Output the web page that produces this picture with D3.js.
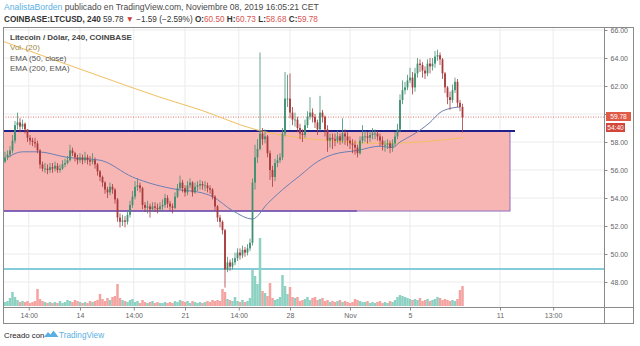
<!DOCTYPE html>
<html>
<head>
<meta charset="utf-8">
<script src="https://cdn.jsdelivr.net/npm/d3@7"></script>
<style>
  body { margin: 0; background: #fff; }
  text { font-family: "Liberation Sans", Arial, sans-serif; }
</style>
</head>
<body>
<div id="chart"></div>
<script>
const W = 640, H = 346

// 4h candles, first one on Oct 9 2019 00:00
const firstCandle = new Date(2019, 9, 9, 0)

const closes = [
  56.9, 57.1, 57.4, 58.1, 59.2, 59.4, 59.1, 59.3, 58.9, 58.3, 58.1, 58.0,
  57.9, 57.4, 56.4, 56.1, 56.1, 56.0, 56.2, 56.1, 56.3, 56.0, 56.1, 56.4,
  56.5, 56.7, 57.4, 57.2, 56.9, 56.7, 56.9, 56.7, 56.9, 56.7, 56.6, 56.7,
  56.4, 55.9, 55.5, 55.1, 54.6, 54.4, 54.8, 54.6, 53.9, 52.6, 52.3, 52.4,
  52.3, 52.8, 53.5, 54.1, 54.8, 54.9, 54.7, 53.5, 53.3, 53.4, 53.2, 53.4,
  53.3, 53.2, 53.4, 53.5, 54.0, 53.6, 53.4, 53.3, 54.1, 54.7, 55.1, 54.7,
  54.4, 54.9, 55.1, 54.4, 54.8, 54.9, 55.0, 54.9, 54.9, 54.7, 54.6, 54.1,
  53.4, 52.6, 52.3, 51.7, 48.9, 49.4, 49.1, 49.4, 49.7, 50.1, 49.9, 50.3,
  50.1, 50.4, 50.8, 55.1, 56.9, 57.5, 58.6, 58.2, 58.4, 57.2, 56.0, 55.5,
  56.5, 56.7, 56.9, 58.6, 61.1, 61.1, 60.1, 59.6, 59.6, 59.0, 58.6, 58.5,
  59.2, 59.8, 60.1, 59.8, 59.4, 58.9, 60.1, 59.8, 58.9, 58.1, 58.3, 58.2,
  58.1, 58.4, 58.1, 58.6, 58.4, 58.1, 57.9, 57.8, 57.6, 57.2, 58.1, 58.4,
  58.4, 58.3, 58.5, 58.6, 58.6, 58.4, 58.1, 57.8, 57.8, 57.9, 57.6, 57.9,
  58.4, 58.9, 61.0, 61.7, 61.9, 62.4, 62.6, 61.9, 62.9, 63.6, 63.5, 63.1,
  62.9, 63.6, 63.4, 63.6, 64.1, 64.2, 63.9, 62.9, 61.9, 61.2, 61.0, 61.7,
  62.3, 60.8, 60.5, 59.78
]
const highs = [
  57.3, 57.4, 57.7, 58.5, 59.5, 60.1, 59.7, 59.6, 59.4, 58.9, 58.5, 58.3,
  58.3, 58.1, 57.5, 56.6, 56.5, 56.4, 56.5, 56.5, 56.6, 56.5, 56.4, 56.7,
  56.8, 57.0, 57.8, 57.6, 57.3, 57.1, 57.2, 57.1, 57.3, 57.1, 57.0, 57.2,
  56.9, 56.5, 56.0, 55.6, 55.2, 54.8, 55.1, 55.0, 54.7, 54.0, 52.9, 52.8,
  52.7, 53.0, 53.8, 54.5, 55.2, 55.4, 55.1, 54.8, 53.7, 53.8, 53.6, 53.7,
  53.7, 53.6, 53.7, 53.9, 54.3, 54.2, 53.8, 53.6, 54.4, 55.0, 55.6, 55.3,
  54.9, 55.2, 55.4, 55.2, 55.1, 55.2, 55.3, 55.2, 55.2, 55.1, 54.9, 54.7,
  54.2, 53.5, 52.8, 52.4, 51.8, 49.8, 49.6, 49.7, 50.1, 50.4, 50.4, 50.6,
  50.5, 50.7, 51.1, 55.4, 57.8, 58.2, 64.4, 59.0, 58.9, 58.5, 57.4, 56.3,
  56.8, 57.1, 57.2, 59.0, 63.0, 62.8, 62.9, 60.5, 60.1, 59.8, 59.3, 58.9,
  59.6, 60.2, 61.2, 60.4, 60.0, 59.6, 61.3, 60.3, 59.9, 59.2, 58.6, 58.6,
  58.6, 58.8, 58.6, 59.7, 58.9, 58.7, 58.4, 58.2, 58.1, 57.8, 58.4, 59.2,
  58.8, 58.7, 58.8, 59.0, 58.9, 58.8, 58.6, 58.4, 58.1, 58.2, 58.1, 58.2,
  58.7, 59.3, 61.4, 62.4, 62.3, 62.8, 63.3, 63.0, 63.3, 64.0, 63.9, 63.7,
  63.4, 63.9, 64.0, 64.0, 64.5, 64.6, 64.4, 64.0, 63.0, 62.0, 61.6, 62.1,
  62.6, 62.5, 61.0, 60.73
]
const lows = [
  56.5, 56.7, 56.9, 57.2, 57.9, 58.9, 58.7, 58.9, 58.6, 58.0, 57.8, 57.7,
  57.6, 57.2, 56.1, 55.9, 55.8, 55.7, 55.8, 55.8, 55.9, 55.8, 55.8, 56.0,
  56.2, 56.4, 56.6, 57.0, 56.6, 56.4, 56.5, 56.4, 56.5, 56.4, 56.3, 56.4,
  56.1, 55.6, 55.2, 54.8, 54.3, 54.0, 54.2, 54.3, 53.6, 52.3, 51.9, 52.0,
  51.9, 52.1, 52.6, 53.3, 53.9, 54.5, 54.4, 53.2, 53.0, 52.9, 52.6, 53.0,
  53.0, 52.9, 53.0, 53.1, 53.3, 53.3, 53.1, 52.9, 53.2, 54.0, 54.6, 54.4,
  54.1, 54.2, 54.7, 54.1, 54.3, 54.5, 54.6, 54.6, 54.5, 54.4, 54.3, 53.9,
  53.1, 52.3, 51.9, 51.4, 47.6, 48.7, 48.8, 48.9, 49.2, 49.5, 49.6, 49.7,
  49.8, 49.9, 50.2, 50.6, 54.6, 56.5, 57.4, 57.8, 57.9, 56.9, 55.3, 54.8,
  55.2, 56.2, 56.5, 56.7, 58.4, 60.5, 59.7, 59.2, 59.1, 58.7, 58.2, 58.0,
  58.3, 59.0, 59.6, 59.4, 59.0, 58.5, 58.8, 59.4, 58.4, 57.3, 57.6, 57.5,
  57.7, 57.9, 57.8, 57.9, 57.8, 57.7, 57.5, 57.2, 57.1, 56.9, 57.1, 57.9,
  58.0, 57.9, 58.0, 58.2, 58.2, 58.1, 57.7, 57.4, 57.3, 57.5, 57.2, 57.3,
  57.7, 58.2, 58.7, 60.7, 61.4, 61.7, 62.2, 61.4, 61.6, 62.6, 63.0, 62.6,
  62.5, 62.7, 62.9, 63.1, 63.3, 63.8, 63.5, 62.5, 61.5, 60.7, 60.3, 60.8,
  61.5, 60.5, 60.2, 58.68
]
const volumes = [
  4, 5, 8, 14, 9, 6, 4, 5, 4, 5, 3, 4,
  5, 17, 7, 5, 4, 3, 4, 3, 4, 3, 5, 3,
  4, 6, 5, 4, 6, 5, 4, 3, 4, 3, 5, 4,
  5, 6, 12, 7, 5, 8, 6, 9, 10, 22, 8, 6,
  5, 4, 6, 7, 4, 5, 3, 6, 4, 3, 4, 5,
  3, 4, 3, 3, 4, 3, 4, 3, 5, 4, 6, 5,
  4, 5, 3, 5, 4, 3, 4, 3, 4, 5, 4, 6,
  5, 6, 5, 17, 14, 7, 6, 5, 9, 5, 4, 6,
  4, 5, 8, 36, 30, 22, 68, 15, 13, 10, 23, 8,
  6, 7, 9, 31, 20, 12, 19, 9, 8, 9, 5, 6,
  7, 9, 6, 8, 9, 6, 7, 8, 5, 6, 4, 5,
  4, 5, 6, 4, 5, 4, 3, 4, 7, 6, 5, 4,
  4, 5, 3, 4, 3, 4, 5, 3, 4, 3, 5, 4,
  6, 9, 11, 10, 9, 8, 7, 6, 7, 6, 8, 5,
  6, 7, 5, 6, 7, 9, 8, 6, 7, 6, 5, 6,
  5, 7, 16, 20
]
const firstOpen = 56.6

// EMA (50, close): candle index, value
const ema50Idx = [1, 7, 13, 25, 38, 51, 69, 78, 83, 91, 99, 105, 111, 118, 125, 131, 141, 150, 155, 158, 163, 170, 174, 178, 182]
const ema50Val = [56.9, 57.3, 57.3, 56.9, 56.7, 55.5, 54.6, 54.4, 54.1, 53.1, 52.5, 53.6, 54.6, 55.6, 56.6, 57.1, 57.4, 57.7, 57.6, 58.0, 58.5, 59.4, 60.1, 60.4, 60.5]
// EMA (200, EMA)
const ema200Idx = [-1, 16, 38, 62, 78, 100, 114, 130, 150, 166, 183]
const ema200Val = [65.2, 64.1, 62.7, 61.2, 60.3, 58.9, 58.4, 58.1, 57.9, 58.0, 58.3]

// drawings
const rectTop = 58.79, rectBottom = 53.07
const rectEnd = new Date(2019, 10, 11, 16)
const topLineEnd = new Date(2019, 10, 12, 0)
const bottomLineEnd = new Date(2019, 10, 1, 11)
const supportLevel = 48.93
const lastPrice = 59.78

const priceTicks = [48, 50, 52, 54, 56, 58, 60, 62, 64, 66]
// 60.00 sits under the last-price tag, so it has no visible label
const hiddenPriceLabels = [60]
const timeTicks = [
  new Date(2019, 9, 10, 14), new Date(2019, 9, 14), new Date(2019, 9, 17, 14),
  new Date(2019, 9, 21), new Date(2019, 9, 24, 14), new Date(2019, 9, 28),
  new Date(2019, 10, 1), new Date(2019, 10, 5), new Date(2019, 10, 11),
  new Date(2019, 10, 14, 13)
]
const timeLabels = ["14:00", "14", "14:00", "21", "14:00", "28", "Nov", "5", "11", "13:00"]

const upColor = "#3f8f70", downColor = "#a83a3c"
const upVol = "#8dd1c3", downVol = "#f4a3a0"

const plot = { left: 3, right: 604, top: 27, bottom: 307 }

const candleTime = i => new Date(firstCandle.getTime() + i * 4 * 3600 * 1000)
const candles = closes.map((c, i) => ({
  t: candleTime(i),
  o: i === 0 ? firstOpen : closes[i - 1],
  h: highs[i], l: lows[i], c: c, v: volumes[i]
}))

const x = d3.scaleTime()
  .domain([new Date(2019, 9, 14), new Date(2019, 10, 11)])
  .range([80, 500])
const y = d3.scaleLinear().domain([48, 66]).range([282, 30])
const yVol = d3.scaleLinear().domain([0, 68]).range([306, 238])

const svg = d3.select("#chart").append("svg")
  .attr("width", W).attr("height", H)

svg.append("clipPath").attr("id", "plotclip")
  .append("rect")
  .attr("x", plot.left).attr("y", plot.top)
  .attr("width", plot.right - plot.left).attr("height", plot.bottom - plot.top)

// header
const head1 = svg.append("text").attr("x", 4).attr("y", 10).attr("font-size", 8.6).attr("fill", "#4a4a4a")
head1.append("tspan").attr("fill", "#5aafe2").text("AnalistaBorden")
head1.append("tspan").text(" publicado en TradingView.com, Noviembre 08, 2019 16:05:21 CET")

const head2 = svg.append("text").attr("x", 4).attr("y", 21.5).attr("font-size", 8.2).attr("fill", "#333")
head2.append("tspan").attr("font-weight", "bold").text("COINBASE:LTCUSD, 240")
head2.append("tspan").text(" 59.78 ")
head2.append("tspan").attr("fill", "#d23a3a").text("▼")
head2.append("tspan").text(" −1.59 (−2.59%) ")
const ohlc = [["O:", "60.50"], ["H:", "60.73"], ["L:", "58.68"], ["C:", "59.78"]]
ohlc.forEach(([k, v], i) => {
  head2.append("tspan").attr("font-weight", "bold").text((i ? " " : "") + k)
  head2.append("tspan").attr("fill", "#d9534f").text(v)
})

const g = svg.append("g")
const plotG = g.append("g").attr("clip-path", "url(#plotclip)")

// grid
plotG.append("g").selectAll("line").data(priceTicks).join("line")
  .attr("x1", plot.left).attr("x2", plot.right)
  .attr("y1", d => y(d)).attr("y2", d => y(d))
  .attr("stroke", "#ebebeb").attr("stroke-width", 1)
plotG.append("g").selectAll("line").data(timeTicks).join("line")
  .attr("x1", d => x(d)).attr("x2", d => x(d))
  .attr("y1", plot.top).attr("y2", plot.bottom)
  .attr("stroke", "#ebebeb").attr("stroke-width", 1)

// range box
plotG.append("rect")
  .attr("x", plot.left - 5).attr("y", y(rectTop))
  .attr("width", x(rectEnd) - plot.left + 5).attr("height", y(rectBottom) - y(rectTop))
  .attr("fill", "#f7b6b4").attr("stroke", "#8c6fc0").attr("stroke-width", 1)

// support line
plotG.append("line")
  .attr("x1", plot.left).attr("x2", plot.right)
  .attr("y1", y(supportLevel)).attr("y2", y(supportLevel))
  .attr("stroke", "#86cbd9").attr("stroke-width", 2)

// top and bottom lines of the box
plotG.append("line")
  .attr("x1", plot.left).attr("x2", x(topLineEnd))
  .attr("y1", y(rectTop)).attr("y2", y(rectTop))
  .attr("stroke", "#20208a").attr("stroke-width", 2)
plotG.append("line")
  .attr("x1", plot.left).attr("x2", x(bottomLineEnd))
  .attr("y1", y(rectBottom)).attr("y2", y(rectBottom))
  .attr("stroke", "#6f4fb0").attr("stroke-width", 1.6)

// last price line
plotG.append("line")
  .attr("x1", plot.left).attr("x2", plot.right)
  .attr("y1", y(lastPrice)).attr("y2", y(lastPrice))
  .attr("stroke", "#d9534f").attr("stroke-width", 0.8).attr("stroke-dasharray", "1,1.5")

// volume
const step = x(candleTime(1)) - x(candleTime(0))
plotG.append("g").selectAll("rect").data(candles).join("rect")
  .attr("x", d => x(d.t) - step / 2)
  .attr("width", step)
  .attr("y", d => yVol(d.v))
  .attr("height", d => yVol(0) - yVol(d.v))
  .attr("fill", d => d.c >= d.o ? upVol : downVol)

// EMA lines
const ema200 = ema200Idx.map((idx, i) => [x(candleTime(idx)), y(ema200Val[i])])
const ema50 = ema50Idx.map((idx, i) => [x(candleTime(idx)), y(ema50Val[i])])
const line = d3.line().curve(d3.curveMonotoneX)
plotG.append("path").attr("d", line(ema200))
  .attr("fill", "none").attr("stroke", "#f0c060").attr("stroke-width", 1)
plotG.append("path").attr("d", line(ema50))
  .attr("fill", "none").attr("stroke", "#6c7fb3").attr("stroke-width", 1)

// candles
const cg = plotG.append("g").selectAll("g").data(candles).join("g")
cg.append("line")
  .attr("x1", d => x(d.t)).attr("x2", d => x(d.t))
  .attr("y1", d => y(Math.max(d.h, d.o, d.c))).attr("y2", d => y(Math.min(d.l, d.o, d.c)))
  .attr("stroke", d => d.c >= d.o ? upColor : downColor).attr("stroke-width", 0.8)
cg.append("rect")
  .attr("x", d => x(d.t) - 0.9).attr("width", 1.8)
  .attr("y", d => y(Math.max(d.o, d.c)))
  .attr("height", d => Math.max(0.8, Math.abs(y(d.o) - y(d.c))))
  .attr("fill", d => d.c >= d.o ? upColor : downColor)

// legend
const legend = [
  ["Litecoin / Dólar, 240, COINBASE", "#444", "bold"],
  ["Vol. (20)", "#a08848", "normal"],
  ["EMA (50, close)", "#555", "normal"],
  ["EMA (200, EMA)", "#555", "normal"]
]
svg.append("g").selectAll("text").data(legend).join("text")
  .attr("x", 10).attr("y", (d, i) => 39.5 + i * 10.5)
  .attr("font-size", 8).attr("fill", d => d[1]).attr("font-weight", d => d[2])
  .text(d => d[0])

// frame
svg.append("rect").attr("x", 3.5).attr("y", 27.5).attr("width", 630).attr("height", 296)
  .attr("fill", "none").attr("stroke", "#8a8a8a")
svg.append("line").attr("x1", 604.5).attr("x2", 604.5).attr("y1", 27.5).attr("y2", 323.5).attr("stroke", "#8a8a8a")
svg.append("line").attr("x1", 3.5).attr("x2", 633.5).attr("y1", 307.5).attr("y2", 307.5).attr("stroke", "#8a8a8a")

// axes
const yAxis = svg.append("g").attr("transform", "translate(604.5,0)")
  .call(d3.axisRight(y).tickValues(priceTicks)
    .tickFormat(d => hiddenPriceLabels.includes(d) ? "" : d3.format(".2f")(d))
    .tickSize(3).tickPadding(3))
yAxis.select(".domain").remove()
yAxis.selectAll("line").attr("stroke", "#8a8a8a")
yAxis.selectAll("text").attr("font-size", 7).attr("fill", "#666")
  .style("font-family", "'Liberation Sans', Arial, sans-serif")

const xAxis = svg.append("g").attr("transform", "translate(0,307.5)")
  .call(d3.axisBottom(x).tickValues(timeTicks).tickFormat((d, i) => timeLabels[i]).tickSize(3).tickPadding(3))
xAxis.select(".domain").remove()
xAxis.selectAll("line").attr("stroke", "#8a8a8a")
xAxis.selectAll("text").attr("font-size", 7).attr("fill", "#666")
  .style("font-family", "'Liberation Sans', Arial, sans-serif")

// price labels
const tags = [
  { text: "59.78", y: 112, w: 25, fill: "#e05a48" },
  { text: "54:40", y: 123, w: 19, fill: "#d3473b" }
]
tags.forEach(t => {
  svg.append("rect").attr("x", 606).attr("y", t.y).attr("width", t.w).attr("height", 9).attr("fill", t.fill)
  svg.append("text").attr("x", 606 + t.w / 2).attr("y", t.y + 6.8).attr("text-anchor", "middle")
    .attr("font-size", 6.6).attr("fill", "#fff").text(t.text)
})

// footer
svg.append("text").attr("x", 4).attr("y", 338).attr("font-size", 7.8)
  .attr("fill", "#222").text("Creado con")
svg.append("path")
  .attr("d", "M44,337 l4,-5 l2.5,2.5 l3,-4 l5,6.5 z")
  .attr("fill", "#5aafe2")
svg.append("text").attr("x", 59).attr("y", 338).attr("font-size", 8.2).attr("fill", "#5aafe2").text("TradingView")
</script>
</body>
</html>
